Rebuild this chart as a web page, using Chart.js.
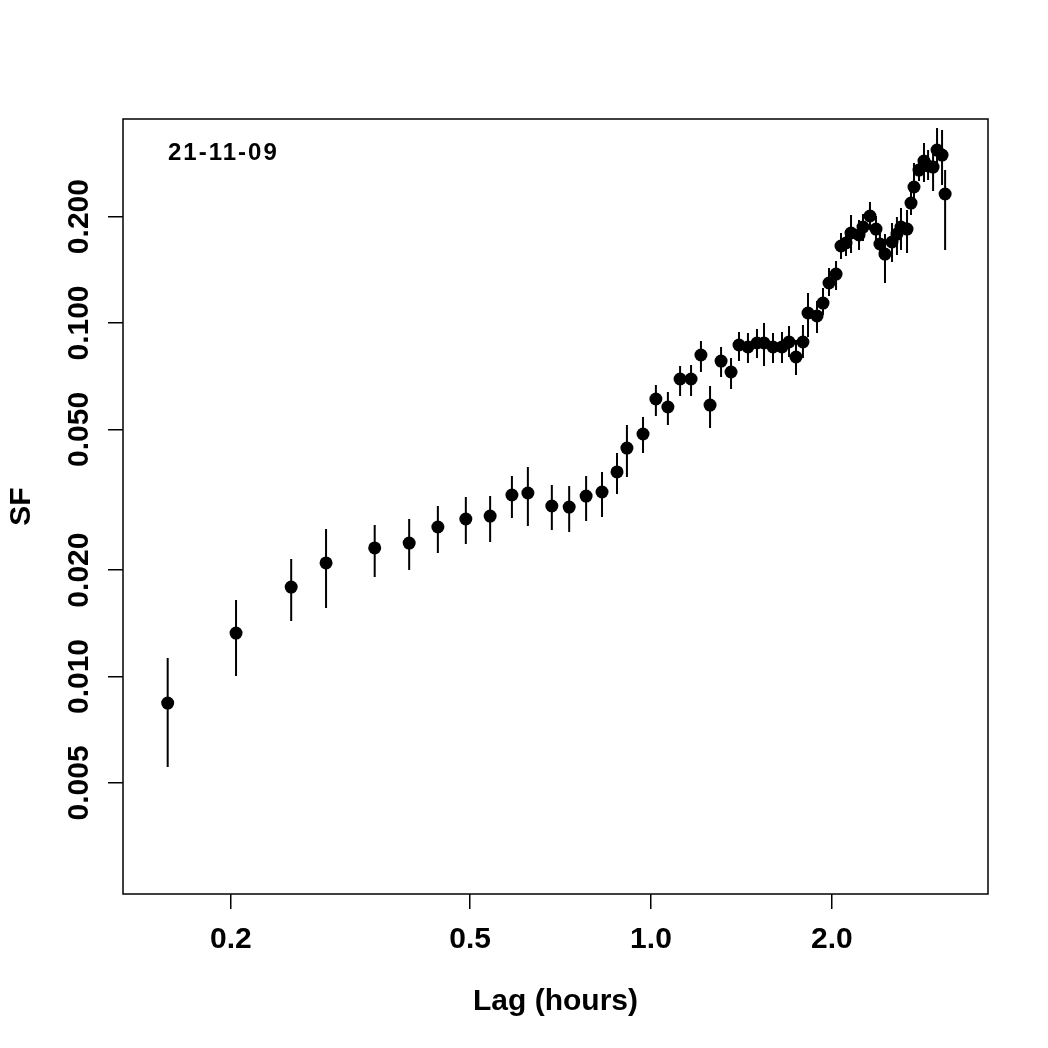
<!DOCTYPE html>
<html>
<head>
<meta charset="utf-8">
<script src="https://cdn.jsdelivr.net/npm/chart.js@4/dist/chart.umd.min.js"></script>
<style>
  html, body { margin: 0; padding: 0; background: #fff; }
  canvas { display: block; }
</style>
</head>
<body>
<canvas id="sf" width="1048" height="1048"></canvas>
<script>
// lag in hours
const lag = [0.157,0.204,0.252,0.288,0.347,0.396,0.442,0.492,0.540,0.587,
  0.624,0.684,0.731,0.780,0.829,0.878,0.912,0.970,1.019,1.067,
  1.118,1.166,1.211,1.254,1.308,1.359,1.401,1.450,1.501,1.542,
  1.596,1.652,1.697,1.743,1.790,1.825,1.889,1.933,1.978,2.032,
  2.071,2.111,2.152,2.219,2.253,2.314,2.368,2.404,2.451,2.518,
  2.566,2.606,2.667,2.708,2.739,2.792,2.846,2.891,2.947,2.992,
  3.050,3.086];

// structure function
const sf = [0.00841,0.01327,0.01791,0.02095,0.02310,0.02385,0.02648,0.02790,0.02844,0.03262,
  0.03305,0.03036,0.03016,0.03240,0.03326,0.03790,0.04429,0.04853,0.06095,0.05786,
  0.06943,0.06943,0.08118,0.05861,0.07806,0.07267,0.08665,0.08553,0.08779,0.08779,
  0.08553,0.08553,0.08836,0.08013,0.08836,0.10673,0.10467,0.11390,0.12979,0.13756,
  0.16514,0.16840,0.17972,0.17739,0.18685,0.20077,0.18444,0.16733,0.15672,0.16949,
  0.17854,0.18685,0.18444,0.21846,0.24251,0.27085,0.28727,0.27804,0.27623,0.30856,
  0.29868,0.23174];

// error bar ends
const sfLo = [0.005546,0.01003,0.01436,0.01563,0.01912,0.02001,0.02236,0.02370,0.02401,0.02808,
  0.02666,0.02598,0.02564,0.02754,0.02826,0.03283,0.03668,0.04289,0.05457,0.05145,
  0.06216,0.06216,0.07267,0.05047,0.07034,0.06506,0.07806,0.07705,0.07962,0.07556,
  0.07705,0.07705,0.08013,0.07127,0.07962,0.09129,0.09369,0.10534,0.11923,0.12399,
  0.15171,0.15471,0.15776,0.16088,0.17061,0.18329,0.16949,0.15371,0.12979,0.14878,
  0.15570,0.16088,0.15776,0.20213,0.21145,0.25217,0.25053,0.25381,0.23627,0.27085,
  0.24570,0.16088];
const sfHi = [0.01128,0.01646,0.02150,0.02615,0.02683,0.02790,0.03036,0.03219,0.03240,0.03692,
  0.03915,0.03481,0.03458,0.03692,0.03790,0.04289,0.05145,0.05421,0.06678,0.06380,
  0.07556,0.07605,0.08893,0.06635,0.08553,0.07962,0.09431,0.09369,0.09616,0.10000,
  0.09369,0.09431,0.09806,0.08952,0.09870,0.12161,0.11539,0.12561,0.14307,0.14974,
  0.17972,0.18329,0.20213,0.19566,0.20345,0.21989,0.20077,0.18329,0.17854,0.19187,
  0.19947,0.21145,0.20873,0.23780,0.28360,0.29302,0.32299,0.30856,0.30263,0.35610,
  0.35156,0.27085];

const xTicks = [0.2, 0.5, 1.0, 2.0];
const yTicks = [0.005, 0.010, 0.020, 0.050, 0.100, 0.200];
const dateLabel = '21-11-09';

const FONT = '"Liberation Sans", Arial, Helvetica, sans-serif';
Chart.defaults.font.family = FONT;
Chart.defaults.color = '#000';

const points = lag.map((x, i) => ({ x: x, y: sf[i] }));
const bars = [];
lag.forEach((x, i) => {
  bars.push({ x: x, y: sfLo[i] });
  bars.push({ x: x, y: sfHi[i] });
  bars.push({ x: x, y: null });
});

// box, rotated y labels and titles, R style
const frame = {
  id: 'frame',
  afterDraw(chart) {
    const ctx = chart.ctx;
    const a = chart.chartArea;
    const ys = chart.scales.y;
    ctx.save();
    ctx.strokeStyle = '#000';
    ctx.lineWidth = 1.5;
    ctx.strokeRect(a.left, a.top, a.right - a.left, a.bottom - a.top);

    ctx.fillStyle = '#000';
    ctx.font = 'bold 30px ' + FONT;
    ctx.textAlign = 'center';
    ctx.textBaseline = 'alphabetic';
    yTicks.forEach(v => {
      const py = ys.getPixelForValue(v);
      ctx.save();
      ctx.translate(88, py);
      ctx.rotate(-Math.PI / 2);
      ctx.fillText(v.toFixed(3), 0, 0);
      ctx.restore();
    });

    ctx.save();
    ctx.translate(30, (a.top + a.bottom) / 2);
    ctx.rotate(-Math.PI / 2);
    ctx.fillText('SF', 0, 0);
    ctx.restore();

    ctx.fillText('Lag (hours)', (a.left + a.right) / 2, 1010);

    ctx.font = 'bold 24px ' + FONT;
    ctx.textAlign = 'left';
    ctx.letterSpacing = '2px';
    ctx.fillText(dateLabel, 168, 160);
    ctx.restore();
  }
};

const config = {
  type: 'scatter',
  data: {
    datasets: [{
      label: 'SF',
      data: points,
      pointRadius: 6.5,
      pointHoverRadius: 6.5,
      backgroundColor: '#000',
      borderWidth: 0,
      order: 0
    }, {
      label: 'error',
      data: bars,
      showLine: true,
      spanGaps: false,
      borderColor: '#000',
      borderWidth: 2,
      pointRadius: 0,
      order: 1
    }]
  },
  options: {
    responsive: false,
    animation: false,
    layout: { padding: { top: 119, right: 60, left: 0, bottom: 0 } },
    plugins: { legend: { display: false }, tooltip: { enabled: false } },
    scales: {
      x: {
        type: 'logarithmic',
        position: 'bottom',
        min: 0.1323,
        max: 3.637,
        afterBuildTicks: s => { s.ticks = xTicks.map(v => ({ value: v })); },
        afterFit: s => { s.height = 154; },
        border: { display: false },
        grid: { drawOnChartArea: false, drawTicks: true, tickLength: 15, color: '#000', lineWidth: 1.5 },
        ticks: {
          autoSkip: false,
          maxRotation: 0,
          padding: 13,
          font: { size: 30, weight: 'bold' },
          callback: v => Number(v).toFixed(1)
        }
      },
      y: {
        type: 'logarithmic',
        min: 0.002425,
        max: 0.3777,
        afterBuildTicks: s => { s.ticks = yTicks.map(v => ({ value: v })); },
        afterFit: s => { s.width = 123; },
        border: { display: false },
        grid: { drawOnChartArea: false, drawTicks: true, tickLength: 15, color: '#000', lineWidth: 1.5 },
        ticks: { display: false }
      }
    }
  },
  plugins: [frame]
};

new Chart(document.getElementById('sf'), config);
</script>
</body>
</html>
